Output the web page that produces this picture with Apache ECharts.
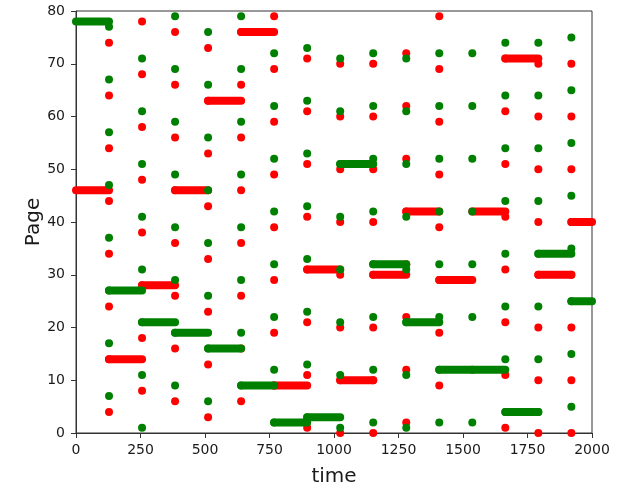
<!DOCTYPE html>
<html>
<head>
<meta charset="utf-8">
<script src="https://cdn.jsdelivr.net/npm/echarts@6/dist/echarts.min.js"></script>
<style>html,body{margin:0;padding:0;background:#fff;}#c{width:619px;height:486px;}</style>
</head>
<body>
<div id="c"></div>
<script>
// Column times where the scattered dots appear
const colTimes = [128, 256, 384, 512, 640, 768, 896, 1024, 1152, 1280, 1408, 1536, 1664, 1792, 1920];
// Green dot pages per column
const greenCols = [
  [7,17,27,37,47,57,67,77],
  [1,11,21,31,41,51,61,71],
  [9,19,29,39,49,59,69,79],
  [6,16,26,36,46,56,66,76],
  [9,19,29,39,49,59,69,79],
  [2,12,22,32,42,52,62,72],
  [3,13,23,33,43,53,63,73],
  [1,11,21,31,41,51,61,71],
  [2,12,22,32,42,52,62,72],
  [1,11,21,31,41,51,61,71],
  [2,12,22,32,42,52,62,72],
  [2,12,22,32,42,52,62,72],
  [4,14,24,34,44,54,64,74],
  [4,14,24,34,44,54,64,74],
  [5,15,25,35,45,55,65,75]
];
// Red dot pages per column
const redCols = [
  [4,14,24,34,44,54,64,74],
  [8,18,28,38,48,58,68,78],
  [6,16,26,36,46,56,66,76],
  [3,13,23,33,43,53,63,73],
  [6,16,26,36,46,56,66,76],
  [9,19,29,39,49,59,69,79],
  [1,11,21,31,41,51,61,71],
  [0,10,20,30,40,50,60,70],
  [0,10,20,30,40,50,60,70],
  [2,12,22,32,42,52,62,72],
  [9,19,29,39,49,59,69,79],
  [],
  [1,11,21,31,41,51,61,71],
  [0,10,20,30,40,50,60,70],
  [0,10,20,30,40,50,60,70]
];
// Horizontal runs: [start time, end time, page]
const greenRuns = [
  [0,128,78],[128,256,27],[256,384,21],[384,512,19],[512,640,16],[640,768,9],
  [768,896,2],[896,1024,3],[1024,1152,51],[1152,1280,32],[1280,1408,21],
  [1408,1664,12],[1664,1792,4],[1792,1920,34],[1920,2000,25]
];
const redRuns = [
  [0,128,46],[128,256,14],[256,384,28],[384,512,46],[512,640,63],[640,768,76],
  [768,896,9],[896,1024,31],[1024,1152,10],[1152,1280,30],[1280,1408,42],
  [1408,1536,29],[1536,1664,42],[1664,1792,71],[1792,1920,30],[1920,2000,40]
];
const xTicks = [0, 250, 500, 750, 1000, 1250, 1500, 1750, 2000];
const yTicks = [0, 10, 20, 30, 40, 50, 60, 70, 80];

const GREEN = '#008000', RED = '#ff0000';
const DOT = 8;

function dots(cols) {
  const out = [];
  cols.forEach((arr, i) => arr.forEach(p => out.push([colTimes[i], p])));
  return out;
}
function runSeries(runs, color, z) {
  return runs.map(r => ({
    type: 'line', data: [[r[0], r[2]], [r[1], r[2]]], showSymbol: false, silent: true,
    lineStyle: { color: color, width: DOT, cap: 'round', opacity: 1 }, z: z, animation: false, clip: true
  }));
}

const chart = echarts.init(document.getElementById('c'), null, { renderer: 'canvas' });
const txt = '#1a1a1a';
chart.setOption({
  animation: false,
  grid: { left: 76, right: 27, top: 11, bottom: 53, containLabel: false, outerBoundsMode: 'none', show: true, borderColor: '#333', borderWidth: 1, backgroundColor: 'transparent' },
  xAxis: {
    type: 'value', min: xTicks[0], max: xTicks[xTicks.length - 1], interval: 250,
    name: 'time', nameLocation: 'middle', nameGap: 34,
    nameTextStyle: { fontFamily: 'DejaVu Sans', fontSize: 20, color: txt },
    axisLine: { show: true, lineStyle: { color: '#333', width: 1 } },
    axisTick: { show: true, length: 5, lineStyle: { color: '#333' } },
    axisLabel: { fontFamily: 'DejaVu Sans', fontSize: 14, color: txt, margin: 10, formatter: v => String(v) },
    splitLine: { show: false }
  },
  yAxis: {
    type: 'value', min: yTicks[0], max: yTicks[yTicks.length - 1], interval: 10,
    name: 'Page', nameLocation: 'middle', nameGap: 32, nameRotate: 90, nameMoveOverlap: false,
    nameTextStyle: { fontFamily: 'DejaVu Sans', fontSize: 20, color: txt },
    axisLine: { show: true, lineStyle: { color: '#333', width: 1 } },
    axisTick: { show: true, length: 5, lineStyle: { color: '#333' } },
    axisLabel: { fontFamily: 'DejaVu Sans', fontSize: 14, color: txt, margin: 11, formatter: v => String(v) },
    splitLine: { show: false }
  },
  series: [].concat(
    runSeries(redRuns, RED, 2),
    [{ type: 'scatter', data: dots(redCols), symbolSize: DOT, itemStyle: { color: RED, opacity: 1 }, z: 2, silent: true }],
    runSeries(greenRuns, GREEN, 3),
    [{ type: 'scatter', data: dots(greenCols), symbolSize: DOT, itemStyle: { color: GREEN, opacity: 1 }, z: 3, silent: true }]
  )
});
</script>
</body>
</html>
